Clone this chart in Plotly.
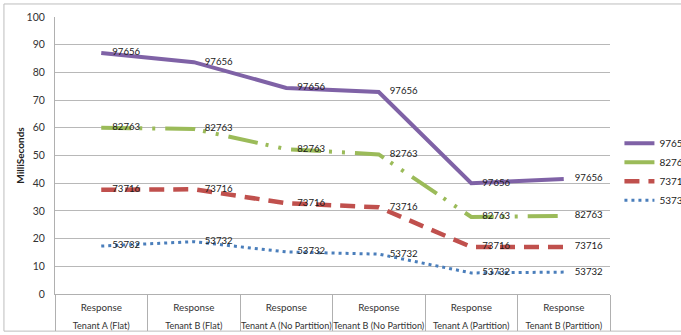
import plotly.graph_objects as go

# Category labels: group names and the metric shown above them
groups = ["Tenant A (Flat)", "Tenant B (Flat)", "Tenant A (No Partition)",
          "Tenant B (No Partition)", "Tenant A (Partition)", "Tenant B (Partition)"]
metric = ["Response"] * 6

# Response times (ms) per series
series_names = ["97656", "82763", "73716", "53732"]
s97656 = [87.0, 83.7, 74.4, 72.9, 40.0, 41.5]
s82763 = [60.0, 59.6, 52.3, 50.4, 27.8, 28.2]
s73716 = [37.6, 37.8, 32.8, 31.3, 17.0, 17.0]
s53732 = [17.3, 18.9, 15.2, 14.4, 7.6, 7.9]

series_values = [s97656, s82763, s73716, s53732]
colors = ["#7F62A6", "#9BBB59", "#C0504D", "#4A7EBB"]
dashes = ["solid", "30px,8px,3px,10px,3px,10px", "15px,9px", "3px,4px"]
widths = [4, 4, 4.5, 3]

FONT = "Lato"

# two-row tick labels: metric on top, group underneath
tick_text = [
    f"<span style='font-size:9.8px'>{m}</span><br><span style='font-size:9.1px'>{g}</span>"
    for m, g in zip(metric, groups)
]

fig = go.Figure()
for name, vals, col, dash, w in zip(series_names, series_values, colors, dashes, widths):
    fig.add_trace(go.Scatter(
        x=groups,
        y=vals,
        name=name,
        mode="lines",
        line=dict(color=col, width=w, dash=dash),
    ))

# data labels (series name next to every point)
for name, vals in zip(series_names, series_values):
    fig.add_trace(go.Scatter(
        x=groups,
        y=vals,
        mode="markers+text",
        text=[name] * len(vals),
        textposition="middle right",
        textfont=dict(family=FONT, size=9.6, color="#1a1a1a"),
        marker=dict(size=16, opacity=0),
        showlegend=False,
        hoverinfo="skip",
    ))

fig.update_layout(
    width=681,
    height=335,
    margin=dict(l=55, r=71, t=17, b=41, autoexpand=False),
    paper_bgcolor="white",
    plot_bgcolor="white",
    font=dict(family=FONT, size=10, color="#333333"),
    showlegend=True,
    legend=dict(
        x=1.017, y=0.597, xanchor="left", yanchor="top",
        font=dict(family=FONT, size=10, color="#222222"),
        bgcolor="rgba(0,0,0,0)",
        itemwidth=30,
        tracegroupgap=0,
    ),
    xaxis=dict(
        type="category",
        range=[-0.5, 5.5],
        tickmode="array",
        tickvals=groups,
        ticktext=tick_text,
        tickangle=0,
        tickson="boundaries",
        ticks="outside",
        ticklen=36,
        tickcolor="#b0b0b0",
        tickwidth=1,
        showgrid=False,
        showline=True,
        linecolor="#b0b0b0",
        linewidth=1,
        tickfont=dict(family=FONT, size=13.5, color="#333333"),
    ),
    yaxis=dict(
        range=[0, 100],
        dtick=10,
        showgrid=True,
        gridcolor="#b8b8b8",
        gridwidth=1,
        showline=True,
        linecolor="#b0b0b0",
        linewidth=1,
        zeroline=False,
        ticks="",
        ticklabelstandoff=7,
        tickfont=dict(family=FONT, size=10.5, color="#333333"),
        title=dict(text="<b>MilliSeconds</b>", font=dict(family=FONT, size=10, color="#222222"),
                   standoff=0),
    ),
)

# Chart frame around the whole drawing area
fig.add_shape(type="rect", xref="paper", yref="paper",
              x0=-0.092, x1=1.2, y0=-0.134, y1=1.047,
              line=dict(color="#bdbdbd", width=1), layer="below")

fig.write_html("out.html")
